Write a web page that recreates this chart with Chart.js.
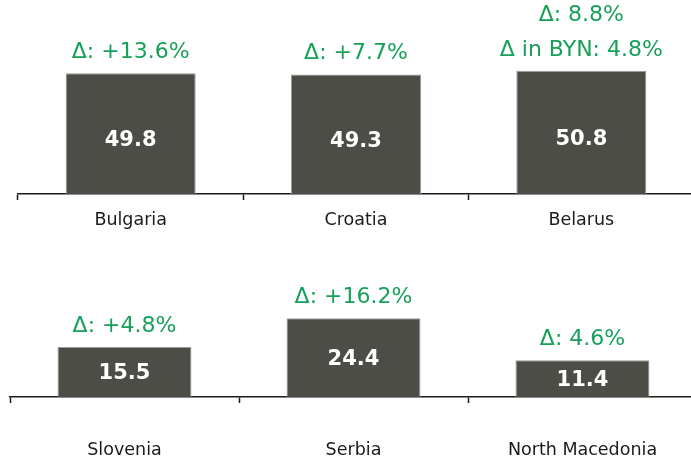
<!DOCTYPE html>
<html>
<head>
<meta charset="utf-8">
<script src="https://cdn.jsdelivr.net/npm/chart.js@4"></script>
<style>
  html, body { margin: 0; padding: 0; background: #fff; width: 691px; height: 460px; overflow: hidden; }
  .wrap { position: absolute; left: 0; width: 700px; }
  #w1 { top: 0; height: 231px; }
  #w2 { top: 231px; height: 230px; }
</style>
</head>
<body>
<div class="wrap" id="w1"><canvas id="c1"></canvas></div>
<div class="wrap" id="w2"><canvas id="c2"></canvas></div>
<script>
const topCategories = ["Bulgaria", "Croatia", "Belarus"];
const topValues = [49.8, 49.3, 50.8];
const topDeltas = [["Δ: +13.6%"], ["Δ: +7.7%"], ["Δ: 8.8%", "Δ in BYN: 4.8%"]];

const bottomCategories = ["Slovenia", "Serbia", "North Macedonia"];
const bottomValues = [15.5, 24.4, 11.4];
const bottomDeltas = [["Δ: +4.8%"], ["Δ: +16.2%"], ["Δ: 4.6%"]];

const BAR = "#4d4d48";
const GREEN = "#17a05a";
const FONT = "'DejaVu Sans', Verdana, sans-serif";

const labelPlugin = {
  id: "labels",
  afterDatasetsDraw(chart, args, opts) {
    const ctx = chart.ctx;
    const meta = chart.getDatasetMeta(0);
    meta.data.forEach((bar, i) => {
      const base = bar.base;
      const top = bar.y;
      ctx.save();
      ctx.textAlign = "center";
      ctx.textBaseline = "middle";
      ctx.fillStyle = "#ffffff";
      ctx.font = "bold 21px " + FONT;
      const v = chart.data.datasets[0].data[i];
      ctx.fillText(v.toFixed(1), bar.x, (top + base) / 2 + opts.valueOffset);
      ctx.fillStyle = GREEN;
      ctx.font = "22px " + FONT;
      const lines = opts.deltas[i];
      for (let k = 0; k < lines.length; k++) {
        const y = top - 21 - (lines.length - 1 - k) * 35;
        ctx.fillText(lines[k], bar.x, y);
      }
      ctx.restore();
    });
  }
};

function makeChart(id, cats, vals, deltas, cfg) {
  return new Chart(document.getElementById(id), {
    type: "bar",
    data: {
      labels: cats,
      datasets: [{
        data: vals,
        backgroundColor: BAR,
        borderColor: "#9a9a96",
        borderWidth: 1,
        barPercentage: cfg.barPct,
        categoryPercentage: 1
      }]
    },
    options: {
      responsive: true,
      maintainAspectRatio: false,
      animation: false,
      layout: { padding: { left: cfg.left, right: cfg.right, top: 0, bottom: 0 } },
      plugins: {
        legend: { display: false },
        tooltip: { enabled: false },
        labels: { deltas: deltas, valueOffset: cfg.valueOffset }
      },
      scales: {
        x: {
          offset: true,
          afterFit: (scale) => { scale.height = cfg.axisH; },
          grid: {
            offset: true,
            drawOnChartArea: false,
            drawTicks: true,
            tickLength: 6,
            tickWidth: 1.5,
            tickColor: "#1a1a1a"
          },
          border: { display: true, color: "#1a1a1a", width: 1.5 },
          ticks: {
            color: "#1a1a1a",
            padding: cfg.tickPad,
            font: { family: FONT, size: 17.5 },
            maxRotation: 0
          }
        },
        y: {
          display: false,
          min: 0,
          max: cfg.max
        }
      }
    },
    plugins: [labelPlugin]
  });
}

makeChart("c1", topCategories, topValues, topDeltas,
  { barPct: 0.577, left: 18, right: 6, max: 80, tickPad: 9.5, valueOffset: 7, axisH: 37 });
makeChart("c2", bottomCategories, bottomValues, bottomDeltas,
  { barPct: 0.585, left: 10, right: 3, max: 51.5, tickPad: 37, valueOffset: 2, axisH: 64 });
</script>
</body>
</html>
